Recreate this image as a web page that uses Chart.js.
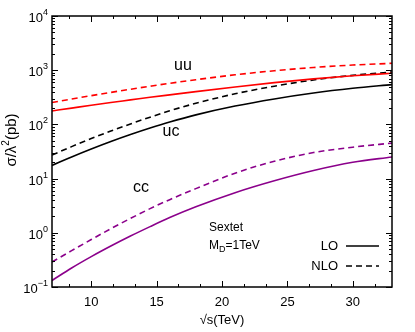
<!DOCTYPE html>
<html>
<head>
<meta charset="utf-8">
<script src="https://cdn.jsdelivr.net/npm/chart.js@4.4.1/dist/chart.umd.min.js"></script>
<style>
  html, body { margin: 0; padding: 0; background: #fff; }
  #wrap { width: 415px; height: 332px; }
</style>
</head>
<body>
<div id="wrap"><canvas id="xsec" width="415" height="332"></canvas></div>
<script>
// sqrt(s) in TeV
const sqrtS = [7, 8.5, 10, 11.5, 13, 14.5, 16, 18, 21, 24, 27, 30, 33];

// sigma / lambda^2 (pb)
const uuLO  = [177, 200, 226, 254, 283, 316, 351, 403, 490, 589, 692, 789, 877];
const uuNLO = [254, 294, 339, 389, 445, 506, 573, 668, 822, 977, 1122, 1245, 1340];
const ucLO  = [17.5, 25.1, 35.2, 48.4, 65.1, 85.8, 110.8, 150, 218, 295, 379, 463, 543];
const ucNLO = [27.2, 38.9, 54.7, 75.5, 102, 136, 178, 245, 367, 507, 661, 804, 927];
const ccLO  = [0.132, 0.224, 0.363, 0.569, 0.871, 1.30, 1.91, 3.02, 5.50, 9.12, 14.1, 20.0, 25.1];
const ccNLO = [0.289, 0.468, 0.750, 1.19, 1.84, 2.79, 4.09, 6.53, 12.6, 20.9, 30.2, 38.0, 45.2];

const xTicks = [10, 15, 20, 25, 30];
const yTickExp = [-1, 0, 1, 2, 3, 4];

const FONT = '"Liberation Sans", Arial, sans-serif';
const RED = '#ff0000', PURPLE = '#8b008b';

function pts(ys) {
    return sqrtS.map((x, i) => ({ x: x, y: ys[i] }));
}

function line(label, ys, color, dashed) {
    return {
        label: label,
        data: pts(ys),
        borderColor: color,
        borderWidth: 1.6,
        borderDash: dashed ? [6, 4] : [],
        pointRadius: 0,
        fill: false,
        cubicInterpolationMode: 'monotone'
    };
}

const framePlugin = {
    id: 'frame',
    afterDraw(chart) {
        const ctx = chart.ctx;
        const a = chart.chartArea;
        const xs = chart.scales.x, ys = chart.scales.y;
        ctx.save();
        ctx.strokeStyle = '#000';
        ctx.fillStyle = '#000';

        // ticks, inside, mirrored
        ctx.lineWidth = 1;
        ctx.beginPath();
        for (let v = 10 - 10 / 3; v <= 33; v += 5 / 3) {
            if (v < 7) continue;
            const px = Math.round(xs.getPixelForValue(v)) + 0.5;
            const major = Math.abs(v / 5 - Math.round(v / 5)) < 0.01;
            const len = major ? 6 : 3;
            ctx.moveTo(px, a.bottom); ctx.lineTo(px, a.bottom - len);
            ctx.moveTo(px, a.top); ctx.lineTo(px, a.top + len);
        }
        for (let e = -1; e <= 4; e++) {
            for (let m = 1; m <= 9; m++) {
                const v = m * Math.pow(10, e);
                if (v > 10000) break;
                const py = Math.round(ys.getPixelForValue(v)) + 0.5;
                const len = m === 1 ? 6 : 3;
                ctx.moveTo(a.left, py); ctx.lineTo(a.left + len, py);
                ctx.moveTo(a.right, py); ctx.lineTo(a.right - len, py);
            }
        }
        ctx.stroke();

        // frame
        ctx.lineWidth = 1.5;
        ctx.strokeRect(a.left, a.top, a.right - a.left, a.bottom - a.top);

        // x tick labels
        ctx.font = '13px ' + FONT;
        ctx.textAlign = 'center';
        ctx.textBaseline = 'middle';
        xTicks.forEach(v => ctx.fillText(String(v), xs.getPixelForValue(v), a.bottom + 15));

        // y tick labels 10^n
        yTickExp.forEach(e => {
            const py = ys.getPixelForValue(Math.pow(10, e));
            const ex = String(e).replace('-', '\u2212');
            ctx.font = '9px ' + FONT;
            const ew = ctx.measureText(ex).width;
            ctx.textAlign = 'left';
            ctx.textBaseline = 'alphabetic';
            const right = a.left - 4;
            ctx.fillText(ex, right - ew, py - 1);
            ctx.font = '13px ' + FONT;
            ctx.textAlign = 'right';
            ctx.fillText('10', right - ew, py + 6);
        });

        // axis titles
        ctx.font = '13px ' + FONT;
        ctx.textAlign = 'center';
        ctx.textBaseline = 'middle';
        ctx.fillText('\u221As(TeV)', 222, 320);

        ctx.save();
        ctx.translate(12, 140);
        ctx.rotate(-Math.PI / 2);
        ctx.textBaseline = 'middle';
        ctx.textAlign = 'left';
        const p1 = '\u03C3/\u03BB', p3 = '(pb)';
        ctx.font = '10px ' + FONT;
        const w2 = ctx.measureText('2').width;
        ctx.font = '15px ' + FONT;
        const w1 = ctx.measureText(p1).width, w3 = ctx.measureText(p3).width;
        const sx = -(w1 + w2 + w3) / 2;
        ctx.fillText(p1, sx, 0);
        ctx.font = '10px ' + FONT;
        ctx.fillText('2', sx + w1, -6);
        ctx.font = '15px ' + FONT;
        ctx.fillText(p3, sx + w1 + w2, 0);
        ctx.restore();

        // curve labels
        ctx.font = '16px ' + FONT;
        ctx.textAlign = 'center';
        ctx.textBaseline = 'middle';
        ctx.fillText('uu', 183, 66);
        ctx.fillText('uc', 171, 132);
        ctx.fillText('cc', 141, 188);

        // Sextet / M_D
        ctx.font = '12px ' + FONT;
        ctx.textAlign = 'left';
        ctx.textBaseline = 'alphabetic';
        ctx.fillText('Sextet', 209, 231);
        ctx.fillText('M', 209, 249);
        const mw = ctx.measureText('M').width;
        ctx.font = '9px ' + FONT;
        ctx.fillText('D', 209 + mw, 252);
        const dw = ctx.measureText('D').width;
        ctx.font = '12px ' + FONT;
        ctx.fillText('=1TeV', 209 + mw + dw, 249);

        // key
        ctx.font = '13px ' + FONT;
        ctx.textAlign = 'right';
        ctx.textBaseline = 'middle';
        ctx.fillText('LO', 338, 246);
        ctx.fillText('NLO', 338, 266);
        ctx.lineWidth = 1.6;
        ctx.beginPath();
        ctx.moveTo(346, 246); ctx.lineTo(379, 246);
        ctx.stroke();
        ctx.setLineDash([6, 4]);
        ctx.beginPath();
        ctx.moveTo(346, 266); ctx.lineTo(379, 266);
        ctx.stroke();
        ctx.restore();
    }
};

new Chart(document.getElementById('xsec').getContext('2d'), {
    type: 'line',
    data: {
        datasets: [
            line('uu LO', uuLO, RED, false),
            line('uu NLO', uuNLO, RED, true),
            line('uc LO', ucLO, '#000', false),
            line('uc NLO', ucNLO, '#000', true),
            line('cc LO', ccLO, PURPLE, false),
            line('cc NLO', ccNLO, PURPLE, true)
        ]
    },
    options: {
        responsive: false,
        animation: false,
        devicePixelRatio: 1,
        layout: { padding: { left: 52, top: 16, right: 23, bottom: 45 } },
        plugins: { legend: { display: false }, tooltip: { enabled: false } },
        scales: {
            x: {
                type: 'linear', min: 7, max: 33,
                ticks: { display: false },
                grid: { display: false },
                border: { display: false },
                afterFit: (s) => { s.height = 0; }
            },
            y: {
                type: 'logarithmic', min: 0.1, max: 10000,
                ticks: { display: false },
                grid: { display: false },
                border: { display: false },
                afterFit: (s) => { s.width = 0; }
            }
        }
    },
    plugins: [framePlugin]
});
</script>
</body>
</html>
